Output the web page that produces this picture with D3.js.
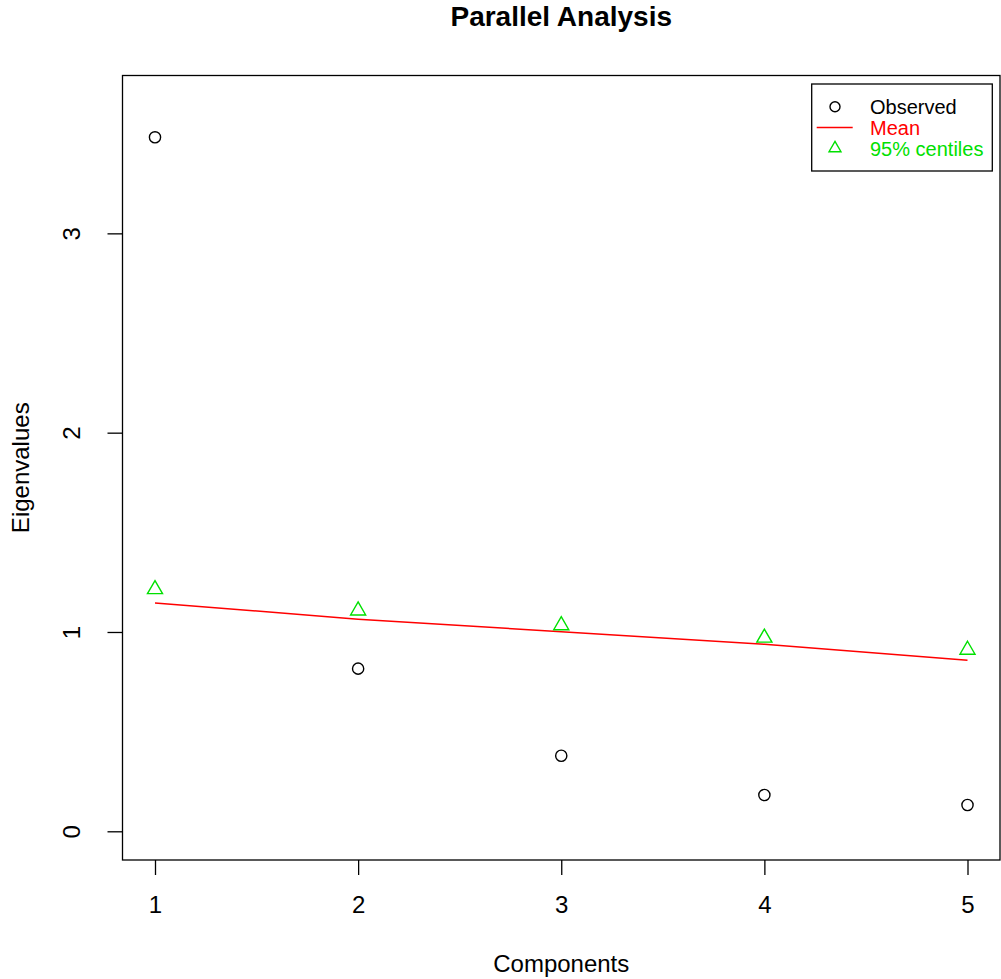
<!DOCTYPE html>
<html lang="en">
<head>
	<meta charset="utf-8"/>
	<title>Parallel Analysis</title>
	<script src="https://d3js.org/d3.v7.min.js"></script>
	<style>
		body { margin: 0; background: #fff; }
		text { font-family: "Liberation Sans", Arial, sans-serif; }
	</style>
</head>
<body>
<script>
// data
var components = [1, 2, 3, 4, 5];
var observed = [3.482, 0.816, 0.379, 0.182, 0.132];
var meanEig = [1.146, 1.064, 1.001, 0.938, 0.858];
var centile95 = [1.214, 1.107, 1.033, 0.971, 0.910];
var yTicks = [0, 1, 2, 3];
var legendLabels = ["Observed", "Mean", "95% centiles"];

var w = 1001;
var h = 979;
// plot region (window.top is reserved, so use other names)
var plotL = 122.5, plotR = 1000, plotT = 75.5, plotB = 860;

var green = "#00e000";

var svg = d3.select("body").append("svg")
	.attr("width", w)
	.attr("height", h);

// scales (R style 4% padding)
var xScale = d3.scaleLinear().domain([0.84, 5.16]).range([plotL, plotR]);
var yScale = d3.scaleLinear().domain([-0.144, 3.792]).range([plotB, plotT]);

// box round the plot
svg.append("rect")
	.attr("x", plotL).attr("y", plotT)
	.attr("width", plotR - plotL).attr("height", plotB - plotT)
	.attr("fill", "none").attr("stroke", "#000").attr("stroke-width", 1.3);

// x axis
var xAxis = svg.append("g")
	.attr("transform", "translate(0," + plotB + ")")
	.call(d3.axisBottom(xScale).tickValues(components).tickSize(15).tickPadding(21).tickFormat(d3.format("d")));
xAxis.select(".domain").remove();
xAxis.selectAll("line").attr("stroke-width", 1.3);
xAxis.selectAll("text").attr("font-size", 24).attr("fill", "#000").attr("font-family", null);

// y axis, labels turned like R does
var yAxis = svg.append("g")
	.attr("transform", "translate(" + plotL + ",0)")
	.call(d3.axisLeft(yScale).tickValues(yTicks).tickSize(15).tickFormat(d3.format("d")));
yAxis.select(".domain").remove();
yAxis.selectAll("line").attr("stroke-width", 1.3);
yAxis.selectAll("text")
	.attr("x", null).attr("dy", null)
	.attr("text-anchor", "middle")
	.attr("transform", "translate(-42.5,0) rotate(-90)")
	.attr("font-size", 24).attr("fill", "#000").attr("font-family", null);

// titles
svg.append("text")
	.attr("x", (plotL + plotR) / 2).attr("y", 26)
	.attr("text-anchor", "middle")
	.attr("font-size", 28).attr("font-weight", "bold")
	.text("Parallel Analysis");

svg.append("text")
	.attr("x", (plotL + plotR) / 2).attr("y", 972)
	.attr("text-anchor", "middle")
	.attr("font-size", 24)
	.text("Components");

svg.append("text")
	.attr("transform", "translate(28.5," + ((plotT + plotB) / 2) + ") rotate(-90)")
	.attr("text-anchor", "middle")
	.attr("font-size", 24)
	.text("Eigenvalues");

// mean line
var line = d3.line()
	.x(function(d, i) { return xScale(components[i]); })
	.y(function(d) { return yScale(d); });

svg.append("path")
	.datum(meanEig)
	.attr("d", line)
	.attr("fill", "none")
	.attr("stroke", "#ff0000")
	.attr("stroke-width", 1.5);

// observed points
svg.selectAll("circle.obs")
	.data(observed)
	.enter()
	.append("circle")
	.attr("class", "obs")
	.attr("cx", function(d, i) { return xScale(components[i]); })
	.attr("cy", function(d) { return yScale(d); })
	.attr("r", 5.6)
	.attr("fill", "none")
	.attr("stroke", "#000")
	.attr("stroke-width", 1.4);

// 95% centile triangles
var tri = d3.symbol().type(d3.symbolTriangle).size(98);
svg.selectAll("path.cent")
	.data(centile95)
	.enter()
	.append("path")
	.attr("class", "cent")
	.attr("d", tri)
	.attr("transform", function(d, i) { return "translate(" + xScale(components[i]) + "," + yScale(d) + ")"; })
	.attr("fill", "none")
	.attr("stroke", green)
	.attr("stroke-width", 1.4);

// legend
var lg = svg.append("g");
lg.append("rect")
	.attr("x", 811.7).attr("y", 84)
	.attr("width", 180.6).attr("height", 87)
	.attr("fill", "#fff").attr("stroke", "#000").attr("stroke-width", 1.3);

var rowY = [106.7, 127.5, 148.3];
var rowCol = ["#000", "#ff0000", green];

lg.append("circle")
	.attr("cx", 835).attr("cy", rowY[0]).attr("r", 5)
	.attr("fill", "none").attr("stroke", "#000").attr("stroke-width", 1.4);
lg.append("line")
	.attr("x1", 816.7).attr("x2", 852.7)
	.attr("y1", rowY[1]).attr("y2", rowY[1])
	.attr("stroke", "#ff0000").attr("stroke-width", 1.5);
lg.append("path")
	.attr("d", d3.symbol().type(d3.symbolTriangle).size(62))
	.attr("transform", "translate(835," + rowY[2] + ")")
	.attr("fill", "none").attr("stroke", green).attr("stroke-width", 1.4);

lg.selectAll("text")
	.data(legendLabels)
	.enter()
	.append("text")
	.attr("x", 870)
	.attr("y", function(d, i) { return rowY[i]; })
	.attr("dy", "0.36em")
	.attr("font-size", 20)
	.attr("fill", function(d, i) { return rowCol[i]; })
	.text(function(d) { return d; });
</script>
</body>
</html>
